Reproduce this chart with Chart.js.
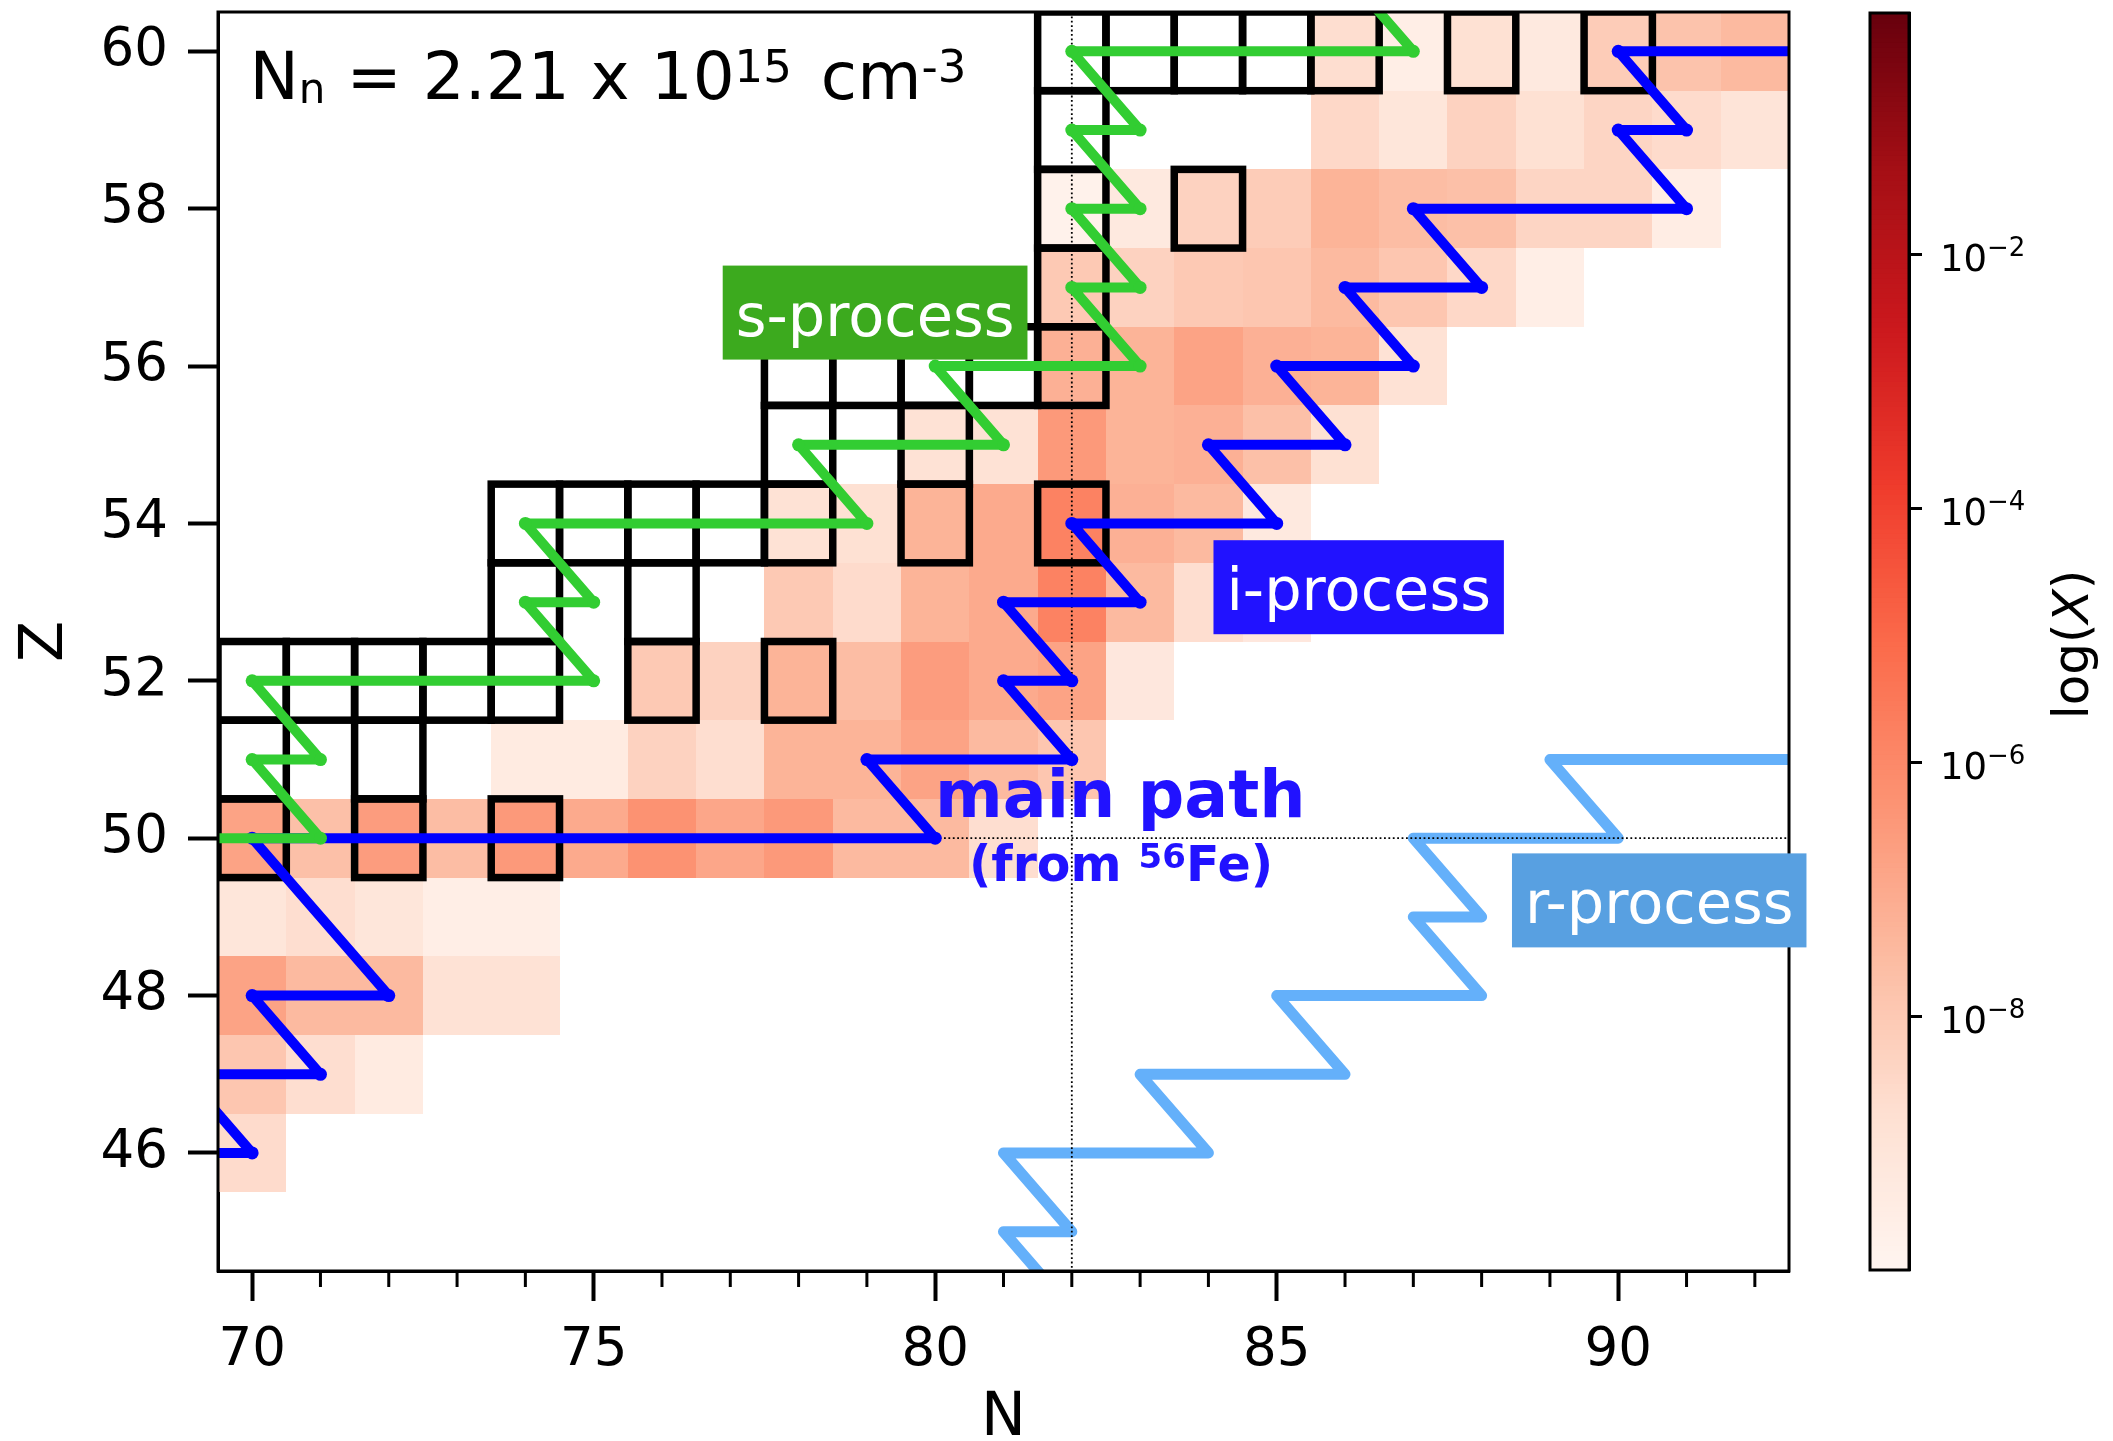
<!DOCTYPE html>
<html>
<head>
<meta charset="utf-8">
<title>Abundance map around N=82</title>
<script src="https://cdn.jsdelivr.net/npm/chart.js@4.4.0/dist/chart.umd.min.js"></script>
<style>
  html, body { margin:0; padding:0; background:#fff; }
  body { width:2113px; height:1441px; position:relative; overflow:hidden; }
  #main { position:absolute; left:0; top:0; }
  #cbar { position:absolute; left:1840px; top:0; }
</style>
</head>
<body>
<canvas id="main" width="1840" height="1441"></canvas>
<canvas id="cbar" width="273" height="1441"></canvas>
<script>
// ---------------- DATA ----------------
const _ = null;
// neutron numbers of the map columns
const N_VALUES = [70,71,72,73,74,75,76,77,78,79,80,81,82,83,84,85,86,87,88,89,90,91,92];
// proton numbers of the map rows
const Z_ROWS = [60,59,58,57,56,55,54,53,52,51,50,49,48,47,46];
// log10 mass fraction per row (one entry per N in N_VALUES; null = not shown)
const LOGX_Z60 = [_,_,_,_,_,_,_,_,_,_,_,_,_,_,_,_,-8.7,-9.6,-8.8,-9.3,-8.1,-7.8,-7.5];
const LOGX_Z59 = [_,_,_,_,_,_,_,_,_,_,_,_,_,_,_,_,-8.5,-9.1,-8.3,-8.8,-8.4,-8.6,-9.0];
const LOGX_Z58 = [_,_,_,_,_,_,_,_,_,_,_,_,-9.8,-9.3,-8.3,-8.1,-7.3,-7.6,-7.7,-8.4,-8.4,-9.5,_];
const LOGX_Z57 = [_,_,_,_,_,_,_,_,_,_,_,_,-8.0,-8.3,-8.0,-7.9,-7.5,-7.9,-8.5,-9.6,_,_,_];
const LOGX_Z56 = [_,_,_,_,_,_,_,_,_,_,_,_,-7.2,-7.3,-6.8,-7.2,-7.3,-8.9,_,_,_,_,_];
const LOGX_Z55 = [_,_,_,_,_,_,_,_,_,_,-8.9,-8.9,-6.5,-7.3,-7.2,-7.7,-8.8,_,_,_,_,_,_];
const LOGX_Z54 = [_,_,_,_,_,_,_,_,-8.9,-8.8,-7.3,-7.0,-5.8,-7.2,-7.5,-9.3,_,_,_,_,_,_,_];
const LOGX_Z53 = [_,_,_,_,_,_,_,_,-8.0,-8.6,-7.3,-7.0,-5.8,-7.5,-8.7,-9.2,_,_,_,_,_,_,_];
const LOGX_Z52 = [_,_,_,_,_,_,-8.0,-8.3,-7.3,-7.6,-6.6,-7.0,-6.8,-9.2,_,_,_,_,_,_,_,_,_];
const LOGX_Z51 = [_,_,_,_,-9.4,-9.4,-8.3,-8.7,-7.3,-7.3,-6.8,-7.5,-7.9,_,_,_,_,_,_,_,_,_,_];
const LOGX_Z50 = [-6.8,-7.7,-6.6,-7.6,-6.5,-7.0,-6.3,-6.9,-6.5,-7.5,-7.5,-8.7,_,_,_,_,_,_,_,_,_,_,_];
const LOGX_Z49 = [-9.1,-8.7,-9.1,-9.6,-9.6,_,_,_,_,_,_,_,_,_,_,_,_,_,_,_,_,_,_];
const LOGX_Z48 = [-6.8,-7.5,-7.5,-8.9,-8.9,_,_,_,_,_,_,_,_,_,_,_,_,_,_,_,_,_,_];
const LOGX_Z47 = [-7.9,-8.7,-9.4,_,_,_,_,_,_,_,_,_,_,_,_,_,_,_,_,_,_,_,_];
const LOGX_Z46 = [-8.6,_,_,_,_,_,_,_,_,_,_,_,_,_,_,_,_,_,_,_,_,_,_];
const LOGX_ROWS = [LOGX_Z60,LOGX_Z59,LOGX_Z58,LOGX_Z57,LOGX_Z56,LOGX_Z55,LOGX_Z54,LOGX_Z53,LOGX_Z52,LOGX_Z51,LOGX_Z50,LOGX_Z49,LOGX_Z48,LOGX_Z47,LOGX_Z46];

// stable (outlined) nuclides
const STABLE_N = [82,83,84,85,86,88,90, 82, 82,84, 82, 78,79,80,81,82, 78,80, 74,75,76,77,78,80,82, 74,76, 70,71,72,73,74,76,78, 70,72, 70,72,74];
const STABLE_Z = [60,60,60,60,60,60,60, 59, 58,58, 57, 56,56,56,56,56, 55,55, 54,54,54,54,54,54,54, 53,53, 52,52,52,52,52,52,52, 51,51, 50,50,50];

// reaction paths (N, Z vertices)
const S_PATH_N = [69,71,70,71,70,75,74,75,74,79,78,81,80,83,82,83,82,83,82,83,82,87,86];
const S_PATH_Z = [50,50,51,51,52,52,53,53,54,54,55,55,56,56,57,57,58,58,59,59,60,60,61];
const I_PATH_N = [68,70,69,71,70,72,70,80,79,82,81,82,81,83,82,85,84,86,85,87,86,88,87,91,90,91,90,93];
const I_PATH_Z = [46,46,47,47,48,48,50,50,51,51,52,52,53,53,54,54,55,55,56,56,57,57,58,58,59,59,60,60];
const R_PATH_N = [82,81,82,81,84,83,86,85,88,87,88,87,90,89,93];
const R_PATH_Z = [44,45,45,46,46,47,47,48,48,49,49,50,50,51,51];

// magic numbers (dotted guide lines)
const MAGIC_N = [82];
const MAGIC_Z = [50];

// axis ticks
const X_TICKS = [70,75,80,85,90];
const X_MINOR_TICKS = [71,72,73,74,76,77,78,79,81,82,83,84,86,87,88,89,91,92];
const Y_TICKS = [46,48,50,52,54,56,58,60];
const CB_TICK_EXP = [-8,-6,-4,-2];
const LOG_MIN = -10, LOG_MAX = -0.1;

// ---------------- STYLE ----------------
const FONT = 'DejaVu Sans';
Chart.defaults.font.family = FONT;
const REDS = [[255,245,240],[254,224,210],[252,187,161],[252,146,114],[251,106,74],[239,59,44],[203,24,29],[165,15,21],[103,0,13]];
function reds(t){
  t = Math.max(0, Math.min(1, t));
  const p = t * 8, i = Math.min(7, Math.floor(p)), f = p - i;
  const a = REDS[i], b = REDS[i+1];
  return 'rgb(' + [0,1,2].map(k => Math.round(a[k] + (b[k]-a[k])*f)).join(',') + ')';
}
const norm = v => (v - LOG_MIN) / (LOG_MAX - LOG_MIN);

const ANNOT = {
  density: { n: 69.96, z: 59.40 },
  sLabel:  { n: 79.12, z: 56.68, text: 's-process', bg: '#3caa1e' },
  iLabel:  { n: 86.20, z: 53.19, text: 'i-process', bg: '#2112ff' },
  rLabel:  { n: 90.60, z: 49.21, text: 'r-process', bg: '#58a0e1' },
  main1:   { n: 82.71, z: 50.27 },
  main2:   { n: 82.72, z: 49.45 }
};

function drawRuns(ctx, x, y, runs, align){
  let total = 0;
  runs.forEach(r => { ctx.font = r.font; r.w = ctx.measureText(r.t).width + (r.gap || 0); total += r.w; });
  let cx = align === 'center' ? x - total/2 : (align === 'right' ? x - total : x);
  ctx.textAlign = 'left'; ctx.textBaseline = 'alphabetic';
  runs.forEach(r => { ctx.font = r.font; ctx.fillText(r.t, cx, y + (r.dy || 0)); cx += r.w; });
}
function labelBox(ctx, cx, cy, text, bg){
  ctx.font = '59px "' + FONT + '"';
  const w = ctx.measureText(text).width + 26, h = 94;
  ctx.fillStyle = bg;
  ctx.fillRect(cx - w/2, cy - h/2, w, h);
  ctx.fillStyle = '#fff'; ctx.textAlign = 'center'; ctx.textBaseline = 'alphabetic';
  ctx.fillText(text, cx, cy + 23);
}

const mapPlugin = {
  id: 'nuclideMap',
  beforeDatasetsDraw(chart){
    const {ctx, chartArea: a, scales: {x, y}} = chart;
    ctx.save();
    ctx.beginPath(); ctx.rect(a.left, a.top, a.right - a.left, a.bottom - a.top); ctx.clip();
    LOGX_ROWS.forEach((vals, r) => {
      const z = Z_ROWS[r];
      vals.forEach((v, i) => {
        if (v === null) return;
        const n = N_VALUES[i];
        const x0 = Math.round(x.getPixelForValue(n - 0.5)), x1 = Math.round(x.getPixelForValue(n + 0.5));
        const y0 = Math.round(y.getPixelForValue(z + 0.5)), y1 = Math.round(y.getPixelForValue(z - 0.5));
        ctx.fillStyle = reds(norm(v));
        ctx.fillRect(x0, y0, x1 - x0, y1 - y0);
      });
    });
    ctx.strokeStyle = '#000'; ctx.lineWidth = 7.5; ctx.lineJoin = 'miter';
    STABLE_N.forEach((n, k) => {
      const z = STABLE_Z[k];
      const x0 = x.getPixelForValue(n - 0.5), x1 = x.getPixelForValue(n + 0.5);
      const y0 = y.getPixelForValue(z + 0.5), y1 = y.getPixelForValue(z - 0.5);
      ctx.strokeRect(x0, y0, x1 - x0, y1 - y0);
    });
    ctx.restore();
  },
  afterDatasetDraw(chart, args){
    if (args.index !== 2) return;
    const {ctx, chartArea: a, scales: {x, y}} = chart;
    ctx.save();
    ctx.beginPath(); ctx.rect(a.left, a.top, a.right - a.left, a.bottom - a.top); ctx.clip();
    ctx.strokeStyle = '#000'; ctx.lineWidth = 1.8; ctx.setLineDash([1.8, 2.6]);
    MAGIC_N.forEach(n => { const px = x.getPixelForValue(n); ctx.beginPath(); ctx.moveTo(px, a.top); ctx.lineTo(px, a.bottom); ctx.stroke(); });
    MAGIC_Z.forEach(z => { const py = y.getPixelForValue(z); ctx.beginPath(); ctx.moveTo(a.left, py); ctx.lineTo(a.right, py); ctx.stroke(); });
    ctx.restore();
  },
  afterDatasetsDraw(chart){
    const {ctx, chartArea: a, scales: {x, y}} = chart;
    ctx.save();
    // frame
    ctx.strokeStyle = '#000'; ctx.lineWidth = 3;
    ctx.strokeRect(a.left, a.top, a.right - a.left, a.bottom - a.top);
    // minor x ticks
    ctx.lineWidth = 3;
    X_MINOR_TICKS.forEach(n => { const px = x.getPixelForValue(n); ctx.beginPath(); ctx.moveTo(px, a.bottom); ctx.lineTo(px, a.bottom + 16); ctx.stroke(); });
    // density text
    ctx.fillStyle = '#000';
    const d = ANNOT.density;
    drawRuns(ctx, x.getPixelForValue(d.n), y.getPixelForValue(d.z), [
      {t:'N', font:'66px "'+FONT+'"'},
      {t:'n', font:'42px "'+FONT+'"', dy:4},
      {t:' = 2.21 x 10', font:'66px "'+FONT+'"'},
      {t:'15', font:'45px "'+FONT+'"', dy:-17, gap:8},
      {t:' cm', font:'66px "'+FONT+'"'},
      {t:'-3', font:'45px "'+FONT+'"', dy:-17}
    ], 'left');
    // main path annotation
    ctx.fillStyle = '#2112ff';
    drawRuns(ctx, x.getPixelForValue(ANNOT.main1.n), y.getPixelForValue(ANNOT.main1.z), [
      {t:'main path', font:'bold 65px "'+FONT+'"'}
    ], 'center');
    drawRuns(ctx, x.getPixelForValue(ANNOT.main2.n), y.getPixelForValue(ANNOT.main2.z), [
      {t:'(from ', font:'bold 49px "'+FONT+'"'},
      {t:'56', font:'bold 34px "'+FONT+'"', dy:-13},
      {t:'Fe)', font:'bold 49px "'+FONT+'"'}
    ], 'center');
    // process labels
    [ANNOT.sLabel, ANNOT.iLabel, ANNOT.rLabel].forEach(L => {
      labelBox(ctx, x.getPixelForValue(L.n), y.getPixelForValue(L.z), L.text, L.bg);
    });
    ctx.restore();
  }
};

const toPts = (ns, zs) => ns.map((n, i) => ({x: n, y: zs[i]}));

new Chart(document.getElementById('main'), {
  type: 'scatter',
  data: {
    datasets: [
      { label: 's-process', data: toPts(S_PATH_N, S_PATH_Z), showLine: true,
        borderColor: '#32cd32', backgroundColor: '#32cd32', borderWidth: 10,
        pointRadius: 6.5, pointHoverRadius: 6.5, pointBorderWidth: 0, borderJoinStyle: 'round', order: 0, clip: 0 },
      { label: 'i-process', data: toPts(I_PATH_N, I_PATH_Z), showLine: true,
        borderColor: '#0000ff', backgroundColor: '#0000ff', borderWidth: 10,
        pointRadius: 6.5, pointHoverRadius: 6.5, pointBorderWidth: 0, borderJoinStyle: 'round', order: 1, clip: 0 },
      { label: 'r-process', data: toPts(R_PATH_N, R_PATH_Z), showLine: true,
        borderColor: '#64b0fa', backgroundColor: '#64b0fa', borderWidth: 11,
        pointRadius: 0, pointHoverRadius: 0, borderJoinStyle: 'round', borderCapStyle: 'round', order: 2, clip: 0 }
    ]
  },
  options: {
    responsive: false, animation: false, events: [],
    layout: { padding: { top: 12, right: 51, left: 0, bottom: 0 } },
    plugins: { legend: { display: false }, tooltip: { enabled: false } },
    scales: {
      x: {
        type: 'linear', min: 69.5, max: 92.5,
        afterBuildTicks: s => { s.ticks = X_TICKS.map(v => ({value: v})); },
        afterFit: s => { s.height = 170; s.paddingLeft = 0; s.paddingRight = 0; },
        grid: { drawOnChartArea: false, tickLength: 30, tickWidth: 4, color: '#000' },
        border: { display: true, color: '#000', width: 3 },
        ticks: { color: '#000', font: { size: 53 }, padding: 18, maxRotation: 0, autoSkip: false },
        title: { display: true, text: 'N', color: '#000', font: { size: 60, lineHeight: 0.72 }, padding: 0 }
      },
      y: {
        type: 'linear', min: 44.5, max: 60.5,
        afterBuildTicks: s => { s.ticks = Y_TICKS.map(v => ({value: v})); },
        afterFit: s => { s.width = 218; s.paddingTop = 0; s.paddingBottom = 0; },
        grid: { drawOnChartArea: false, tickLength: 30, tickWidth: 4, color: '#000' },
        border: { display: true, color: '#000', width: 3 },
        ticks: { color: '#000', font: { size: 53 }, padding: 20, autoSkip: false },
        title: { display: true, text: 'Z', color: '#000', font: { size: 60 }, padding: { top: 10, bottom: 0 } }
      }
    }
  },
  plugins: [mapPlugin]
});

// ---------------- COLORBAR ----------------
const cbarPlugin = {
  id: 'cbar',
  beforeDatasetsDraw(chart){
    const {ctx, chartArea: a, scales: {y}} = chart;
    ctx.save();
    const steps = 256;
    for (let k = 0; k < steps; k++){
      const v0 = LOG_MIN + (LOG_MAX - LOG_MIN) * k / steps;
      const v1 = LOG_MIN + (LOG_MAX - LOG_MIN) * (k + 1) / steps;
      const p0 = y.getPixelForValue(Math.pow(10, v0)), p1 = y.getPixelForValue(Math.pow(10, v1));
      ctx.fillStyle = reds((k + 0.5) / steps);
      ctx.fillRect(a.left, p1 - 0.5, a.right - a.left, p0 - p1 + 1);
    }
    ctx.strokeStyle = '#000'; ctx.lineWidth = 3;
    ctx.strokeRect(a.left, a.top, a.right - a.left, a.bottom - a.top);
    // tick labels 10^e
    ctx.fillStyle = '#000';
    CB_TICK_EXP.forEach(e => {
      const py = y.getPixelForValue(Math.pow(10, e));
      drawRuns(ctx, a.right + 31, py + 17, [
        {t:'10', font:'37px "'+FONT+'"'},
        {t:'\u2212' + Math.abs(e), font:'26px "'+FONT+'"', dy:-15}
      ], 'left');
    });
    // axis label log(X)
    ctx.translate(a.right + 179, (a.top + a.bottom) / 2 + 3);
    ctx.rotate(-Math.PI / 2);
    drawRuns(ctx, 0, 0, [
      {t:'log(', font:'50px "'+FONT+'"'},
      {t:'X', font:'italic 50px "'+FONT+'"'},
      {t:')', font:'50px "'+FONT+'"'}
    ], 'center');
    ctx.restore();
  }
};

new Chart(document.getElementById('cbar'), {
  type: 'scatter',
  data: { datasets: [] },
  options: {
    responsive: false, animation: false, events: [],
    layout: { padding: { top: 13, bottom: 171, left: 30, right: 0 } },
    plugins: { legend: { display: false }, tooltip: { enabled: false } },
    scales: {
      x: { display: false },
      y: {
        type: 'logarithmic', position: 'right',
        min: Math.pow(10, LOG_MIN), max: Math.pow(10, LOG_MAX),
        afterBuildTicks: s => { s.ticks = CB_TICK_EXP.map(e => ({value: Math.pow(10, e)})); },
        afterFit: s => { s.width = 204; s.paddingTop = 0; s.paddingBottom = 0; },
        grid: { drawOnChartArea: false, tickLength: 13, tickWidth: 3, color: '#000' },
        border: { display: true, color: '#000', width: 3 },
        ticks: { display: false }
      }
    }
  },
  plugins: [cbarPlugin]
});
</script>
</body>
</html>
